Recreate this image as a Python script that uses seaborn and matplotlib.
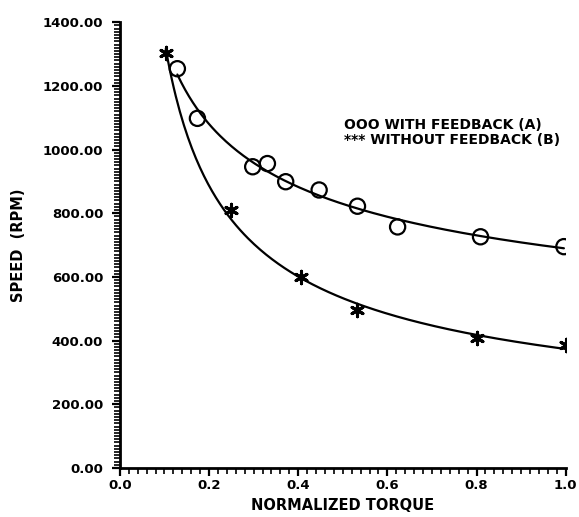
import seaborn as sns
import matplotlib.pyplot as plt
from matplotlib.ticker import MultipleLocator, FormatStrFormatter
import numpy as np
import pandas as pd

# values
torque_a = [0.129, 0.174, 0.298, 0.331, 0.372, 0.447, 0.533, 0.623, 0.809, 0.996]
speed_a = [1254, 1098, 946, 956, 899, 873, 822, 757, 726, 695]

torque_b = [0.103, 0.249, 0.406, 0.533, 0.802, 1.0]
speed_b = [1302, 810, 600, 496, 407, 386]

legend_lines = ['OOO WITH FEEDBACK (A)', '*** WITHOUT FEEDBACK (B)']

df_a = pd.DataFrame({'Torque': torque_a, 'Speed': speed_a})
df_b = pd.DataFrame({'Torque': torque_b, 'Speed': speed_b})


# smooth fit through the measured points (quadratic in log-log space)
def fit_curve(x, y):
    coef = np.polyfit(np.log(x), np.log(y), 2)
    xs = np.linspace(min(x), max(x), 200)
    return pd.DataFrame({'Torque': xs, 'Speed': np.exp(np.polyval(coef, np.log(xs)))})


sns.set_style('ticks')
plt.rcParams['font.family'] = ['DejaVu Sans']
plt.rcParams['font.weight'] = 'bold'
for key in ['text.color', 'axes.labelcolor', 'xtick.color', 'ytick.color', 'axes.edgecolor']:
    plt.rcParams[key] = 'black'

fig = plt.figure(figsize=(5.79, 5.17), dpi=100)
ax = fig.add_axes([0.207, 0.095, 0.77, 0.862])

sns.lineplot(x='Torque', y='Speed', data=fit_curve(torque_a, speed_a),
             color='black', linewidth=1.6, ax=ax)
sns.lineplot(x='Torque', y='Speed', data=fit_curve(torque_b, speed_b),
             color='black', linewidth=1.6, ax=ax)

# measured points
sns.scatterplot(x='Torque', y='Speed', data=df_a, marker='o', s=120,
                facecolor='none', edgecolor='black', linewidth=1.6, ax=ax)
sns.scatterplot(x='Torque', y='Speed', data=df_b, marker=(6, 2, 0), s=80,
                color='black', linewidth=2.2, ax=ax)

for i, line in enumerate(legend_lines):
    ax.text(0.502, 1077 - i * 47, line, fontsize=10, fontweight='bold', va='center')

ax.set_xlim(0, 1.0)
ax.set_ylim(0, 1400)
ax.xaxis.set_major_locator(MultipleLocator(0.2))
ax.xaxis.set_minor_locator(MultipleLocator(0.02))
ax.yaxis.set_major_locator(MultipleLocator(200))
ax.yaxis.set_minor_locator(MultipleLocator(10))
ax.xaxis.set_major_formatter(FormatStrFormatter('%.1f'))
ax.yaxis.set_major_formatter(FormatStrFormatter('%.2f'))
ax.tick_params(which='major', length=6, width=1.6, labelsize=9.5)
ax.tick_params(axis='y', which='major', pad=6)
ax.tick_params(axis='x', which='major', pad=2)
ax.tick_params(which='minor', length=4, width=1.2)

ax.set_xlabel('NORMALIZED TORQUE', fontsize=10.5, fontweight='bold', labelpad=4)
ax.set_ylabel('SPEED  (RPM)', fontsize=10.5, fontweight='bold', labelpad=12)

sns.despine(ax=ax)
for side in ['left', 'bottom']:
    ax.spines[side].set_linewidth(2)

fig.savefig('out.png', dpi=100)
